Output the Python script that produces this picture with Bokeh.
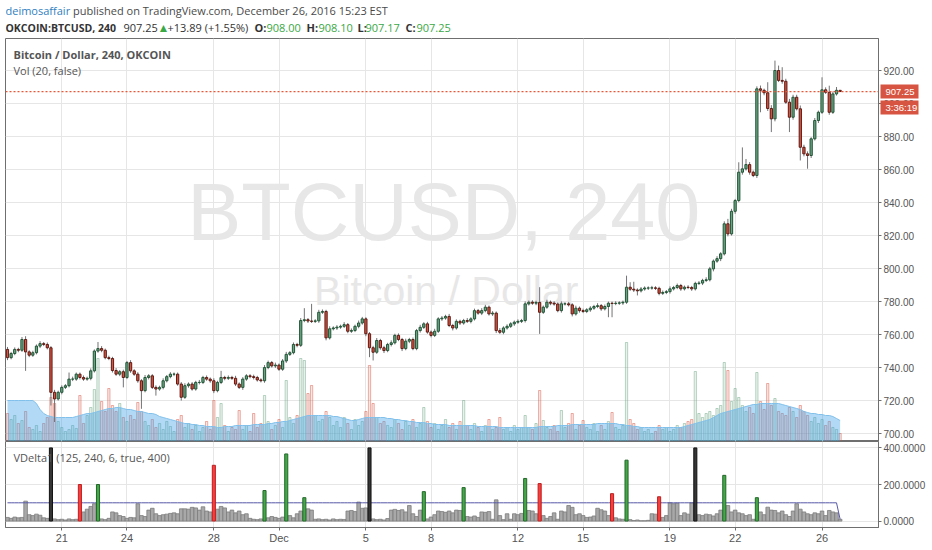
#!/usr/bin/env python3
# -*- coding:utf-8 -*-

import numpy as np
import pandas as pd
from bokeh.plotting import figure
from bokeh.layouts import column
from bokeh.models import (ColumnDataSource, Range1d, FixedTicker, SingleIntervalTicker,
                          PrintfTickFormatter, Span, Label, LinearAxis)
from bokeh.core.properties import value
from bokeh.embed import file_html
from bokeh.resources import INLINE

# ---- data: OKCOIN:BTCUSD, 4h bars -------------------------------------------
first_bar = "2016-11-18 12:00"
first_open = 751.0

closes = [
    746, 748.5, 751, 750.5, 757, 749.5, 747.5, 749, 753, 754.5,
    754, 752, 725, 721, 725, 728, 729, 733, 733, 736,
    734, 733, 733.5, 738, 750, 751.5, 750.5, 746, 745.5, 738.2,
    736, 737.5, 734, 743, 738, 736, 732, 726, 734, 735,
    728, 727, 728, 732, 734.5, 736, 736, 730, 722, 729,
    730, 727, 731, 731, 734, 733, 732, 726, 731, 734,
    733.5, 734, 733.5, 730, 728, 733, 735, 734.5, 734, 732.5,
    732, 740, 743, 741, 741.5, 739, 744, 748, 749, 754,
    753.5, 768.5, 769, 768.2, 768, 768.3, 773.5, 774, 758, 763.5,
    764, 764.5, 765, 766, 762, 762.5, 765, 767, 769.5, 760.5,
    752, 749.3, 756.4, 752, 750.3, 754, 755, 759.5, 757, 751.5,
    756, 757, 751.5, 762.4, 764.4, 766.5, 761.5, 759.5, 762, 769.5,
    770, 771, 765.5, 764, 768, 767, 768.5, 768, 769.5, 774.5,
    773, 774.5, 776.6, 772.5, 773, 762.4, 761.4, 764, 765, 766.5,
    767.5, 768, 768.5, 778.6, 779.6, 779, 779.5, 773.5, 776.6, 779.6,
    779, 778.5, 774.5, 778.6, 778.6, 778, 772.5, 776, 774.5, 774,
    775, 776, 777, 777.5, 775.6, 777, 779, 778.8, 779, 779.2,
    779.6, 788.7, 787.5, 787, 786.5, 787.6, 788.2, 788.2, 788.3, 788,
    785, 785.5, 786, 787.7, 788.5, 789.7, 787.7, 788.7, 788.5, 787.7,
    791, 791.2, 792.8, 793.2, 799.8, 804.5, 806, 808.9, 827.1, 821,
    834.7, 841.2, 858.4, 860.4, 863, 858.4, 856.4, 908.9, 908, 906.5,
    897, 890.7, 920, 914, 913.5, 900.8, 891.7, 903.8, 896.8, 873.5,
    869.5, 868.5, 878.6, 889.7, 894.7, 908.3, 906.8, 894.7, 905.8, 908,
    907.25,
]

# wick above the body / below the body, in dollars
wick_up = [
    1.5, 1, 1.2, 1, 1.5, 2, 1, 1.2, 1, 1.5,
    1, 1.2, 1, 1.5, 1, 1.2, 1, 4, 1.5, 1,
    1, 1.2, 1, 1.5, 1, 4, 1.5, 1, 1.2, 1,
    1.5, 1, 1.2, 1, 1.5, 1, 1.2, 1, 1.5, 1,
    1, 1.2, 1, 1.5, 1, 1.2, 1, 1, 1.2, 1.5,
    1, 1.2, 1, 1.5, 1, 1.2, 1, 1.5, 1, 4,
    1, 1.2, 1, 1.5, 1, 1.2, 1, 1, 1.2, 1,
    1, 1.5, 1.2, 1, 1.5, 1, 1.2, 1.5, 1, 1.2,
    1, 1.5, 7, 1, 10.4, 1, 1.5, 1.2, 1, 1.5,
    1, 1.2, 1, 1.5, 1, 1.2, 1, 1.5, 1.2, 1,
    1, 1.2, 1.5, 1, 1.2, 1, 1.5, 1, 1.2, 1,
    1.5, 1, 1.2, 1, 1.5, 1, 1.2, 1, 1.5, 1,
    1.2, 1, 1.5, 1, 1.2, 1, 1, 1.5, 1, 1.2,
    1, 1.5, 1.4, 1, 1.2, 1, 1.5, 1, 1.2, 1,
    1, 1.2, 1, 1.5, 1, 1.2, 1, 9.2, 1, 1.5,
    1, 1.2, 1, 1.5, 1, 1.2, 1, 1.5, 1, 1.2,
    1, 1.2, 1, 1.5, 1, 1.2, 1, 1, 1.2, 1,
    1, 7, 3, 4.5, 1, 1.2, 1, 1, 1.2, 1,
    1, 1.2, 1, 1.5, 1, 1.2, 1, 1, 1.2, 1,
    1, 1.2, 1, 1.5, 1.2, 1, 1.5, 1, 1.5, 3,
    1.5, 1, 6, 13, 3.4, 1.5, 1, 1.5, 2, 1,
    6.4, 2, 6, 3, 8, 1.5, 2, 1.5, 1.5, 2,
    1.5, 1.5, 1, 1.5, 1, 7.6, 1.5, 4, 1.5, 2,
    0.1,
]
wick_dn = [
    1.5, 1, 1, 1.2, 1, 11.5, 1.2, 1, 1, 1.2,
    1, 1, 8, 14, 1, 1.2, 1, 1, 1.2, 1,
    1.2, 1, 1, 1.2, 1, 1, 1.2, 1, 1, 1.2,
    1, 1.2, 6, 1, 1.2, 1, 1.2, 11, 1, 1.2,
    1, 4, 1, 1.2, 1, 1, 1.2, 1, 2, 1,
    1.2, 1, 1, 1.2, 1, 1, 1.2, 1.5, 1, 1,
    1.2, 1, 1, 1.2, 1, 1.5, 1, 1, 1.2, 1,
    1, 1.2, 1, 1, 1.2, 1, 1, 1.2, 1, 1,
    1.2, 1, 1, 1.2, 1, 1, 1.2, 1, 1.5, 1,
    1, 1.2, 1, 1, 1.2, 1, 1, 1.2, 1, 1.5,
    5.7, 5, 1, 1.2, 1.5, 1, 1.2, 1, 1, 1.5,
    1, 1.2, 1, 1, 1.2, 1, 1, 1.2, 1, 1,
    1.2, 1, 1, 1.5, 1, 1.2, 1, 1, 1.2, 1,
    1, 1.2, 1, 1, 1.2, 1.5, 1, 1.2, 1, 1,
    1.2, 1, 1, 1.2, 1, 1, 1.2, 13.1, 1, 1,
    1.2, 1, 1, 1.2, 1, 1, 1.5, 1, 1.2, 1,
    1, 1.2, 1, 1, 1.2, 1, 6.5, 8.3, 1, 1,
    1.2, 1, 1, 1.2, 2.8, 1, 1, 1.2, 1, 1,
    1.2, 1, 1, 1.2, 1, 1, 1.2, 1, 1, 1.2,
    1, 1, 1.2, 1, 1, 1.5, 1, 1.5, 1, 1.5,
    1, 1.5, 1, 1.5, 1, 1.5, 1, 1.5, 13.3, 1.5,
    1.5, 8, 1.5, 1, 1.5, 1, 9, 1.5, 1, 8,
    1.5, 8, 1.5, 1, 1.5, 1, 1, 1.5, 1, 1,
    0.08,
]

volume = [
    28, 22, 26, 18, 21, 30, 14, 12, 16, 10,
    18, 24, 44, 38, 20, 14, 10, 12, 16, 13,
    46, 18, 26, 34, 52, 83, 40, 30, 53, 36,
    30, 38, 24, 20, 26, 22, 39, 30, 20, 16,
    22, 14, 18, 12, 20, 15, 10, 22, 26, 14,
    18, 12, 16, 10, 14, 20, 12, 41, 24, 38,
    16, 10, 14, 12, 31, 12, 16, 10, 28, 14,
    18, 46, 20, 12, 16, 22, 14, 61, 24, 18,
    26, 83, 81, 48, 56, 26, 20, 22, 30, 24,
    16, 20, 14, 24, 18, 12, 22, 16, 20, 30,
    76, 38, 24, 18, 20, 16, 14, 22, 18, 12,
    20, 16, 22, 14, 18, 34, 20, 14, 18, 12,
    16, 22, 14, 18, 12, 20, 41, 16, 12, 18,
    14, 10, 16, 22, 12, 14, 24, 12, 14, 10,
    16, 12, 14, 26, 14, 12, 18, 51, 21, 14,
    12, 16, 10, 31, 14, 18, 28, 12, 16, 21,
    14, 12, 18, 10, 16, 12, 20, 29, 14, 12,
    16, 99, 22, 18, 12, 14, 10, 12, 8, 10,
    16, 12, 14, 10, 12, 16, 14, 18, 20, 22,
    70, 28, 24, 28, 30, 26, 33, 36, 79, 71,
    40, 53, 44, 36, 30, 34, 28, 69, 40, 32,
    58, 36, 43, 30, 28, 26, 34, 30, 24, 36,
    30, 26, 20, 24, 18, 22, 16, 20, 14, 12,
    8,
]

volume_ma = [
    41, 41, 41, 41, 41, 41, 41, 41, 38, 32,
    28, 26, 25, 24, 24, 24, 24, 24, 24, 25,
    26, 27, 28, 28, 29, 30, 31, 32, 33, 33,
    34, 34, 33, 32, 32, 31, 30, 30, 29, 28,
    28, 27, 25, 24, 23, 22, 21, 20, 19, 18,
    18, 17, 17, 16, 16, 15, 15, 15, 14, 14,
    15, 15, 15, 16, 16, 16, 16, 16, 17, 17,
    17, 17, 18, 18, 19, 19, 20, 20, 21, 22,
    23, 24, 25, 26, 26, 26, 26, 26, 26, 26,
    25, 25, 24, 23, 22, 21, 21, 22, 23, 24,
    24, 24, 24, 24, 24, 23, 23, 22, 22, 21,
    21, 20, 20, 19, 19, 19, 18, 18, 17, 17,
    17, 17, 16, 16, 16, 16, 16, 16, 16, 16,
    15, 15, 15, 15, 15, 15, 14, 14, 14, 14,
    14, 14, 14, 14, 14, 14, 14, 15, 15, 15,
    15, 15, 16, 16, 16, 16, 17, 17, 17, 17,
    17, 17, 17, 18, 18, 18, 18, 18, 18, 17,
    17, 16, 16, 15, 15, 14, 14, 14, 14, 14,
    14, 14, 14, 14, 14, 14, 14, 15, 16, 17,
    18, 19, 20, 21, 22, 24, 26, 28, 29, 30,
    31, 32, 33, 34, 35, 36, 37, 37, 38, 38,
    38, 38, 38, 38, 37, 36, 35, 34, 33, 32,
    30, 29, 28, 28, 27, 27, 26, 26, 25, 23,
    21,
]

vdelta = [
    20, 15, 22, 18, 20, 109, 35, 30, 38, 32,
    18, 15, 455, 12, 8, 10, 6, 12, 8, 10,
    200, 50, 65, 80, 95, 200, 12, 8, 15, 50,
    45, 30, 25, 15, 20, 18, 95, 30, 25, 60,
    70, 40, 30, 35, 38, 42, 45, 40, 67, 67,
    65, 75, 72, 60, 78, 55, 50, 305, 65, 80,
    72, 50, 60, 45, 55, 35, 40, 15, 10, 8,
    12, 167, 18, 25, 20, 15, 22, 367, 30, 18,
    40, 55, 128, 67, 60, 10, 12, 8, 10, 6,
    12, 8, 10, 9, 55, 58, 52, 104, 70, 72,
    430, 12, 8, 10, 6, 14, 60, 64, 58, 62,
    50, 85, 40, 25, 60, 161, 12, 22, 35, 55,
    52, 48, 55, 45, 60, 58, 183, 25, 22, 28,
    20, 50, 48, 52, 10, 116, 30, 8, 40, 10,
    40, 35, 42, 233, 58, 55, 40, 205, 30, 15,
    25, 45, 10, 55, 50, 85, 75, 35, 40, 30,
    20, 22, 28, 70, 62, 55, 30, 150, 18, 12,
    10, 333, 8, 3, 6, 2, 2, 4, 40, 38,
    133, 20, 30, 100, 95, 98, 30, 45, 38, 100,
    412, 35, 30, 38, 35, 28, 40, 60, 250, 85,
    50, 60, 45, 40, 30, 35, 10, 128, 50, 35,
    76, 60, 58, 45, 55, 35, 25, 55, 95, 65,
    50, 40, 35, 45, 40, 55, 30, 58, 50, 45,
    10,
]
vdelta_level = [100] * 230 + [10]
vdelta_cap = 400
vdelta_spike = 120

tick_dates = ["2016-11-21", "2016-11-24", "2016-11-28", "2016-12-01", "2016-12-05",
              "2016-12-08", "2016-12-12", "2016-12-15", "2016-12-19", "2016-12-22",
              "2016-12-26"]
tick_labels = ["21", "24", "28", "Dec", "5", "8", "12", "15", "19", "22", "26"]
countdown = "3:36:19"

# ---- styling --------------------------------------------------------------
UP, DOWN = "#6ba583", "#d75442"
UP_LINE, DOWN_LINE = "#225437", "#5b1a13"
WICK = "#737375"
FRAME = "#6f6f6f"
GRID = "#e6e6e6"
FONT = "Open Sans"
AXFONT = "Liberation Sans"
W = 930
LB, RB = 5, 52
PH = 403                       # price pane frame height
PY = (695.2, 939.4)

n = len(closes)
x = np.arange(n)
c = np.array(closes, dtype=float)
o = np.concatenate([[first_open], c[:-1]])
top = np.maximum(o, c)
bot = np.minimum(o, c)
hi = top + np.array(wick_up)
lo = bot - np.array(wick_dn)
up = c >= o

t0 = pd.Timestamp(first_bar)
tick_idx = [int((pd.Timestamp(d) - t0) / pd.Timedelta(hours=4)) for d in tick_dates]

src = ColumnDataSource(dict(
    x=x, top=top, bot=bot, hi=hi, lo=lo,
    fill=[UP if u else DOWN for u in up],
    line=[UP_LINE if u else DOWN_LINE for u in up],
    vol=volume, vol_ma=volume_ma))


def style_axis(ax, size="10px"):
    ax.axis_line_color = FRAME
    ax.major_tick_line_color = FRAME
    ax.major_tick_out = 3
    ax.major_tick_in = 0
    ax.minor_tick_line_color = None
    ax.major_label_text_color = "#555555"
    ax.major_label_text_font = AXFONT
    ax.major_label_text_font_size = size
    ax.major_label_standoff = 2


# ---- header (frame is aligned with the panes below, so x is in page px) ------
head = figure(width=W, height=38, x_range=Range1d(LB, W - RB), y_range=Range1d(38, 0),
              x_axis_location=None, y_axis_location=None,
              toolbar_location=None, output_backend="svg",
              min_border_left=LB, min_border_right=RB, min_border_top=0, min_border_bottom=0)
head.grid.visible = False
head.outline_line_color = None

GREEN_TXT = "#3aa845"
header = [
    (5, 10, "deimosaffair", "#2f7fc1", "normal", "11px"),
    (72.5, 10, "published on TradingView.com, December 26, 2016 15:23 EST", "#4a4a4a", "normal", "11px"),
    (5, 27, "OKCOIN:BTCUSD, 240", "#333333", "bold", "10.5px"),
    (123, 27, "%.2f" % c[-1], "#333333", "normal", "11px"),
    (157, 27, "\u25b2", GREEN_TXT, "normal", "12px"),
    (167, 27, "+13.89 (+1.55%)", "#333333", "normal", "11px"),
    (254, 27, "O:", "#333333", "bold", "11px"),
    (266, 27, "%.2f" % o[-1], GREEN_TXT, "normal", "11px"),
    (306, 27, "H:", "#333333", "bold", "11px"),
    (318, 27, "%.2f" % hi[-1], GREEN_TXT, "normal", "11px"),
    (357, 27, "L:", "#333333", "bold", "11px"),
    (365, 27, "%.2f" % lo[-1], GREEN_TXT, "normal", "11px"),
    (405, 27, "C:", "#333333", "bold", "11px"),
    (416, 27, "%.2f" % c[-1], GREEN_TXT, "normal", "11px"),
]
for hx, hy, txt, col, sty, size in header:
    head.text(x=[hx], y=[hy], text=[txt], text_color=col, text_font=value(FONT),
              text_font_size=size, text_font_style=sty, text_baseline="middle")

# ---- price pane -----------------------------------------------------------
xr = Range1d(-0.55, 240.6)
p = figure(width=W, height=PH, x_range=xr, y_range=Range1d(*PY),
           x_axis_location=None, y_axis_location="right",
           toolbar_location=None, output_backend="svg",
           min_border_left=LB, min_border_right=RB, min_border_top=0, min_border_bottom=0)
p.outline_line_color = FRAME
p.xgrid.ticker = FixedTicker(ticks=tick_idx)
p.ygrid.ticker = SingleIntervalTicker(interval=20, num_minor_ticks=0)
p.yaxis.ticker = SingleIntervalTicker(interval=20, num_minor_ticks=0)
p.yaxis.formatter = PrintfTickFormatter(format="%.2f")
p.grid.grid_line_color = GRID
style_axis(p.yaxis[0])

p.add_layout(Label(x=120.5, y=834.5, text="BTCUSD, 240", text_font=AXFONT,
                   text_font_size="81px", text_color="#e7e7e7", text_align="center",
                   text_baseline="middle", level="underlay"))
p.add_layout(Label(x=121.2, y=786.5, text="Bitcoin / Dollar", text_font=AXFONT,
                   text_font_size="41px", text_color="#e7e7e7", text_align="center",
                   text_baseline="middle", level="underlay"))

# volume bars, then the 20-bar volume average laid over them
p.extra_y_ranges = {"vol": Range1d(0, PH)}
p.vbar(x="x", width=0.62, bottom=0, top="vol", source=src, y_range_name="vol",
       fill_color="fill", fill_alpha=0.14, line_color="fill", line_alpha=0.45)
p.varea(x="x", y1=0, y2="vol_ma", source=src, y_range_name="vol",
        fill_color="#3fa0e6", fill_alpha=0.40)
p.line(x="x", y="vol_ma", source=src, y_range_name="vol", line_color="#80c0ea", line_width=1)

p.segment(x0="x", y0="hi", x1="x", y1="lo", source=src, line_color=WICK, line_width=1)
p.vbar(x="x", width=0.62, top="top", bottom="bot", source=src,
       fill_color="fill", line_color="line", line_width=1)

p.add_layout(Span(location=c[-1], dimension="width", line_color="#e4593a",
                  line_dash="2 2", line_width=1.3))

# last-price and countdown tags: a second right axis whose thick inward ticks
# make the red boxes and whose labels are written on top of them
ppu = PH / (PY[1] - PY[0])
tag_y = [float(c[-1]), float(c[-1] - 15.5 / ppu)]
tag_axis = LinearAxis(ticker=FixedTicker(ticks=tag_y, minor_ticks=[]),
                      formatter=PrintfTickFormatter(format="%.2f"),
                      major_label_overrides={tag_y[1]: countdown})
tag_axis.axis_line_color = None
tag_axis.major_tick_line_color = DOWN
tag_axis.major_tick_line_width = 14
tag_axis.major_tick_in = 37
tag_axis.major_tick_out = 1
tag_axis.minor_tick_line_color = None
tag_axis.major_label_text_color = "white"
tag_axis.major_label_text_font = AXFONT
tag_axis.major_label_text_font_size = "9.5px"
tag_axis.major_label_standoff = -33
p.add_layout(tag_axis, "right")

p.add_layout(Label(x=xr.start, y=PY[1], x_offset=8, y_offset=-16,
                   text="Bitcoin / Dollar, 240, OKCOIN", text_font=FONT,
                   text_font_size="11px", text_font_style="bold", text_color="#555555",
                   text_baseline="middle"))
p.add_layout(Label(x=xr.start, y=PY[1], x_offset=8, y_offset=-32,
                   text="Vol (20, false)", text_font=FONT,
                   text_font_size="11px", text_color="#555555", text_baseline="middle"))

# ---- VDelta pane ----------------------------------------------------------
vd = np.array(vdelta, dtype=float)
vd_top = np.minimum(vd, vdelta_cap)
gray = vd <= vdelta_spike
spk_fill, spk_line = [], []
for v, u in zip(vd[~gray], up[~gray]):
    if v >= vdelta_cap:
        spk_fill.append("#363636"); spk_line.append("#111111")
    elif u:
        spk_fill.append("#45a847"); spk_line.append("#22662a")
    else:
        spk_fill.append("#ff3b3b"); spk_line.append("#b52222")
gsrc = ColumnDataSource(dict(x=x[gray], top=vd_top[gray]))
ssrc = ColumnDataSource(dict(x=x[~gray], top=vd_top[~gray], fill=spk_fill, line=spk_line))

q = figure(width=W, height=106, x_range=xr, y_range=Range1d(-35, 435),
           y_axis_location="right", toolbar_location=None, output_backend="svg",
           min_border_left=LB, min_border_right=RB, min_border_top=0, min_border_bottom=20)
q.outline_line_color = FRAME
q.xaxis.ticker = FixedTicker(ticks=tick_idx)
q.xaxis.major_label_overrides = dict(zip(tick_idx, tick_labels))
q.xgrid.ticker = FixedTicker(ticks=tick_idx)
q.yaxis.ticker = FixedTicker(ticks=[0, 200, 400])
q.ygrid.ticker = FixedTicker(ticks=[0, 200, 400])
q.yaxis.formatter = PrintfTickFormatter(format="%.4f")
q.grid.grid_line_color = GRID
style_axis(q.yaxis[0])
style_axis(q.xaxis[0], "11px")
q.xaxis.major_label_standoff = 1

q.vbar(x="x", width=1.0, bottom=0, top="top", source=gsrc,
       fill_color="#a8a8a8", line_color="#7c7c7c", line_width=0.8)
q.line(x=x, y=vdelta_level, line_color="#5858a8", line_width=1)
q.vbar(x="x", width=0.85, bottom=0, top="top", source=ssrc,
       fill_color="fill", line_color="line", line_width=1)
q.add_layout(Label(x=xr.start, y=435, x_offset=8, y_offset=-16,
                   text="VDelta1 (125, 240, 6, true, 400)", text_font=FONT,
                   text_font_size="11px", text_color="#555555", text_baseline="middle"))

layout = column(head, p, q)
open("out.html", "w").write(file_html(layout, INLINE))
